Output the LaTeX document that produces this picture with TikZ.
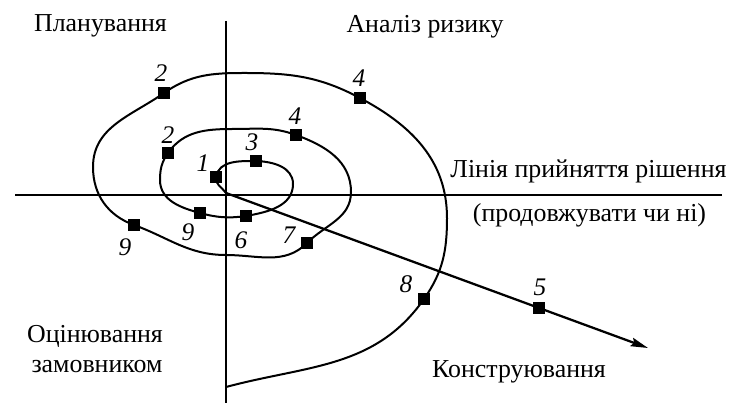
\documentclass[tikz,border=0pt]{standalone}
\usepackage{fontspec}
\setmainfont{Liberation Serif}
\usetikzlibrary{arrows.meta}
\begin{document}
\begin{tikzpicture}[x=0.75pt,y=0.75pt,
  mk/.style={rectangle,fill=black,minimum size=9pt,inner sep=0pt,outer sep=0pt},
  num/.style={font=\fontsize{19}{21}\selectfont\itshape,inner sep=0pt},
  lbl/.style={font=\fontsize{19.4}{22}\selectfont,inner sep=0pt,anchor=base},
  ln/.style={line width=1.5pt}]
\useasboundingbox (0,0) rectangle (729,403);
% axes
\coordinate (vt) at (226,382);
\coordinate (vb) at (226,0);
\coordinate (hl) at (15,208);
\coordinate (hr) at (722,208);
\draw[ln] (vt) -- (vb);
\draw[ln] (hl) -- (hr);
% markers
\coordinate (O) at (226,210);
\node[mk] (m1) at (216,226) {};
\node[mk] (m3) at (256,242) {};
\node[mk] (m6) at (246,187) {};
\node[mk] (m9i) at (200,190) {};
\node[mk] (m2i) at (168,250) {};
\node[mk] (m4i) at (296,268) {};
\node[mk] (m7) at (307,160) {};
\node[mk] (m9o) at (134,178) {};
\node[mk] (m2o) at (164,310) {};
\node[mk] (m4o) at (360,305) {};
\node[mk] (m8) at (424,104) {};
\coordinate (E) at (226,16);
\coordinate (r1) at (293,219);
\coordinate (l2) at (160,223);
\coordinate (t2) at (233,274);
\coordinate (r2) at (351,211);
\coordinate (b2) at (226,148);
\coordinate (l3) at (93,236);
\coordinate (t3) at (245,330);
\coordinate (r3) at (447,185);
% spiral
\draw[ln] (O) to[out=125,in=260] (m1.center)
  to[out=80,in=180] (m3.center)
  to[out=-2,in=90] (r1)
  to[out=-90,in=10] (m6.center)
  to[out=188,in=-15] (m9i.center)
  to[out=165,in=-90] (l2)
  to[out=90,in=235] (m2i.center)
  to[out=55,in=180] (t2)
  to[out=0,in=160] (m4i.center)
  to[out=-20,in=90] (r2)
  to[out=-90,in=45] (m7.center)
  to[out=225,in=0] (b2)
  to[out=180,in=-20] (m9o.center)
  to[out=160,in=-90] (l3)
  to[out=90,in=215] (m2o.center)
  to[out=35,in=180] (t3)
  to[out=0,in=152] (m4o.center)
  to[out=-28,in=90] (r3)
  to[out=-90,in=55] (m8.center)
  to[out=235,in=15] (E);
% arrow
\coordinate (tip) at (648,55);
\draw[line width=1.7pt,-{Stealth[length=13pt,width=6.5pt,inset=2pt]}] (O) -- (tip) node[mk,pos=0.742] (m5) {};
% numbers
\node[num] (n1) at (203,240) {1};
\node[num] (n3) at (252,261) {3};
\node[num] (n2i) at (168,268) {2};
\node[num] (n4i) at (295,287) {4};
\node[num] (n2o) at (161,330) {2};
\node[num] (n4o) at (359,325) {4};
\node[num] (n9i) at (188,171) {9};
\node[num] (n6) at (241,163) {6};
\node[num] (n7) at (289,168) {7};
\node[num] (n9o) at (125,156) {9};
\node[num] (n8) at (406,119) {8};
\node[num] (n5) at (540,116) {5};
% labels
\node[lbl] (plan) at (100.5,371) {Планування};
\node[lbl] (risk) at (425,370) {Аналіз ризику};
\node[lbl] (line) at (588.5,225) {Лінія прийняття рішення};
\node[lbl] (cont) at (589.5,181) {(продовжувати чи ні)};
\node[lbl] (eval1) at (95,60) {Оцінювання};
\node[lbl] (eval2) at (97,30) {замовником};
\node[lbl] (cons) at (519,25) {Конструювання};
\end{tikzpicture}
\end{document}
